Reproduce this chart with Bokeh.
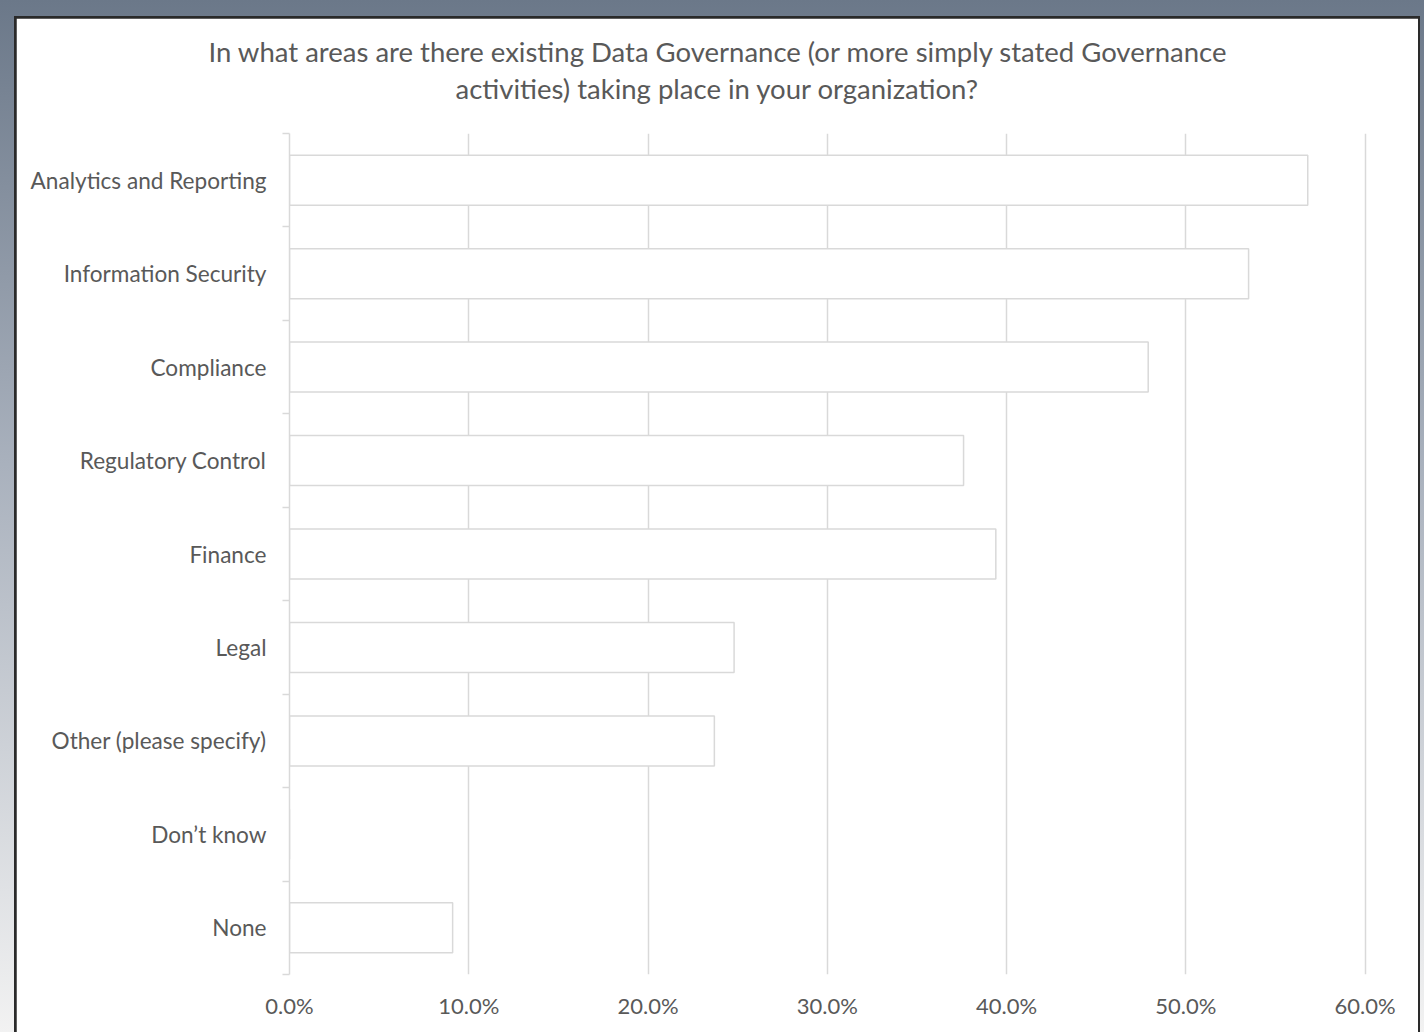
from bokeh.plotting import figure
from bokeh.models import FixedTicker, PrintfTickFormatter, Title, ColumnDataSource, Range1d
from bokeh.layouts import column
from bokeh.embed import file_html
from bokeh.resources import INLINE

categories = [
    "Analytics and Reporting",
    "Information Security",
    "Compliance",
    "Regulatory Control",
    "Finance",
    "Legal",
    "Other (please specify)",
    "Don\u2019t know",
    "None",
]
values = [56.8, 53.5, 47.9, 37.6, 39.4, 24.8, 23.7, 0.0, 9.1]
x_ticks = [0, 10, 20, 30, 40, 50, 60]
title_lines = [
    "In what areas are there existing Data Governance (or more simply stated Governance",
    "activities) taking place in your organization?",
]

n = len(categories)
pos = [n - i - 0.5 for i in range(n)]
src = ColumnDataSource(dict(y=pos, v=values, cat=categories))

FONT = "Lato"
TXT = "#595959"
GRID = "#d9d9d9"

p = figure(
    width=1402, height=1014,
    x_range=Range1d(0, 60.3), y_range=Range1d(0, n),
    output_backend="svg", toolbar_location=None, title=None,
    min_border_left=273, min_border_right=48, min_border_top=115, min_border_bottom=58,
    background_fill_color="white", border_fill_color="white",
)
# outline is painted beneath grid and axes, so white hides it
p.outline_line_color = "white"
p.outline_line_width = 2

p.hbar(y="y", left=0, right="v", height=0.535, fill_color="white",
       line_color=GRID, line_width=1.5, source=src)

# y axis
yax = p.yaxis[0]
yax.ticker = FixedTicker(ticks=pos, minor_ticks=list(range(n + 1)))
yax.major_label_overrides = {y: c for y, c in zip(pos, categories)}
yax.major_tick_in = 0
yax.major_tick_out = 0
yax.minor_tick_in = 0
yax.minor_tick_out = 7
yax.minor_tick_line_color = GRID
yax.minor_tick_line_width = 1.5
yax.axis_line_color = GRID
yax.axis_line_width = 1.5
yax.major_label_standoff = 16
yax.major_label_text_font = FONT
yax.major_label_text_font_size = "22.6px"
yax.major_label_text_color = TXT
p.ygrid.grid_line_color = None

# x axis
xax = p.xaxis[0]
xax.ticker = FixedTicker(ticks=x_ticks)
xax.formatter = PrintfTickFormatter(format="%.1f%%")
xax.axis_line_color = None
xax.major_tick_line_color = None
xax.minor_tick_line_color = None
xax.major_label_standoff = 11
xax.major_label_text_font = FONT
xax.major_label_text_font_size = "22px"
xax.major_label_text_color = TXT
p.xgrid.grid_line_color = GRID
p.xgrid.grid_line_width = 1.5

# title: spacer panel next to the frame, then line 2, then line 1
p.add_layout(Title(text=" ", text_font_size="2px", standoff=25), "above")
for line, so, off in [(title_lines[1], 0, 166), (title_lines[0], 4, -81)]:
    p.add_layout(Title(text=line, align="left", offset=off, text_font=FONT,
                       text_font_size="27.5px", text_color=TXT, text_font_style="normal",
                       standoff=so), "above")

p.margin = (2, 2, 0, 2)
inner = column(p, margin=(16, 4, 0, 14), styles={"background-color": "#2a2a2a"})
outer = column(inner, styles={"background": "linear-gradient(to bottom, #6b7889 0%, #a9b1bd 45%, #f2f2f2 100%)"})

open("out.html", "w").write(file_html(outer, INLINE))
